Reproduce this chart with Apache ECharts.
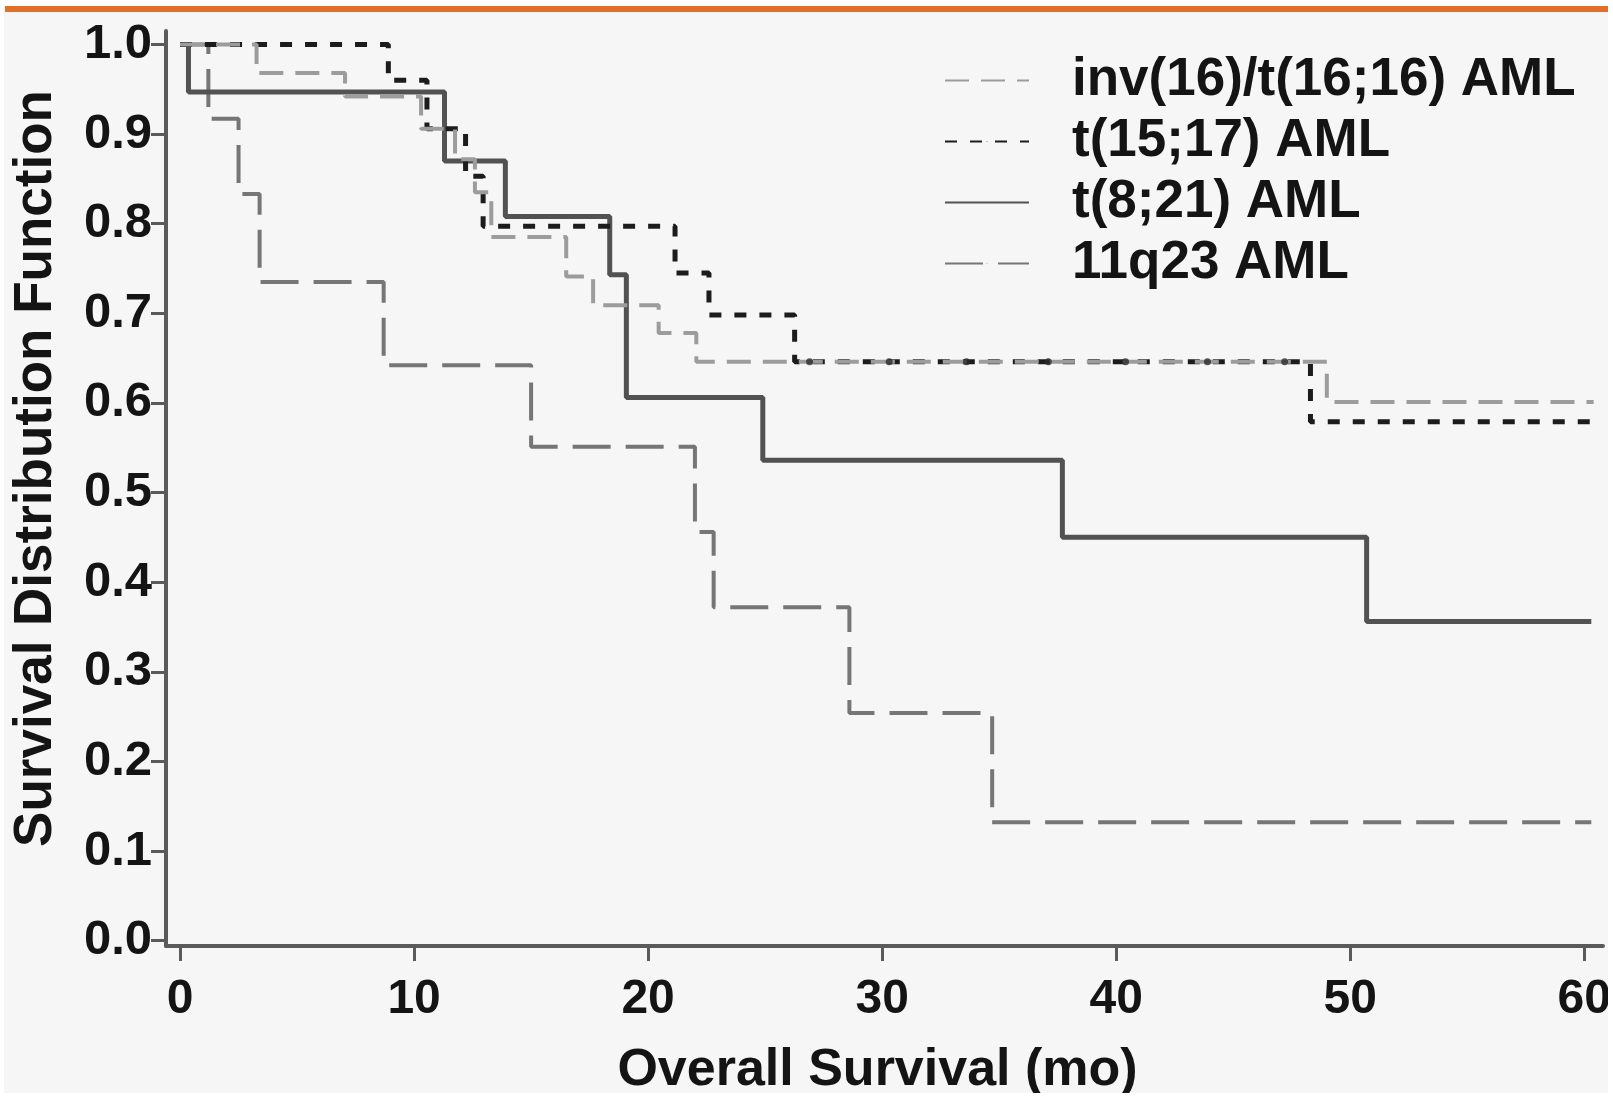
<!DOCTYPE html>
<html>
<head>
<meta charset="utf-8">
<script src="https://cdn.jsdelivr.net/npm/echarts@6/dist/echarts.min.js"></script>
<style>
  html, body { margin: 0; padding: 0; background: #ffffff; }
  #chart { width: 1613px; height: 1096px; }
</style>
</head>
<body>
<div id="chart"></div>
<script>
// ---- data (time in months, survival probability) ----
const seriesNames = ['inv(16)/t(16;16) AML', 't(15;17) AML', 't(8;21) AML', '11q23 AML'];

const inv16Time = [0, 3.27, 7.05, 10.3, 11.75, 12.6, 13.3, 16.5, 17.65, 20.45, 22.06, 49.0, 60.4];
const inv16Surv = [1.0, 0.968, 0.942, 0.906, 0.872, 0.835, 0.785, 0.741, 0.709, 0.678, 0.646, 0.601, 0.601];

const t1517Time = [0, 8.9, 10.55, 12.2, 12.95, 21.15, 22.6, 26.26, 48.3, 60.5];
const t1517Surv = [1.0, 0.960, 0.906, 0.853, 0.797, 0.745, 0.698, 0.646, 0.579, 0.579];

const t821Time = [0, 0.36, 11.3, 13.9, 18.36, 19.07, 24.9, 37.7, 50.7, 60.3];
const t821Surv = [1.0, 0.947, 0.870, 0.808, 0.743, 0.606, 0.536, 0.450, 0.356, 0.356];

const q23Time = [0, 1.21, 2.5, 3.4, 8.7, 15.0, 22.0, 22.8, 28.6, 34.7, 60.3];
const q23Surv = [1.0, 0.917, 0.833, 0.735, 0.642, 0.551, 0.456, 0.372, 0.254, 0.132, 0.132];

const censorTime = [26.9, 30.3, 33.6, 37.1, 40.4, 43.9, 47.2];
const censorSurv = [0.646, 0.646, 0.646, 0.646, 0.646, 0.646, 0.646];

const xTicks = [0, 10, 20, 30, 40, 50, 60];
const yTicks = [0.0, 0.1, 0.2, 0.3, 0.4, 0.5, 0.6, 0.7, 0.8, 0.9, 1.0];

const xTitle = 'Overall Survival (mo)';
const yTitle = 'Survival Distribution Function';

// ---- helpers ----
const zip = (a, b) => a.map((v, i) => [v, b[i]]);
const FONT = '"Liberation Sans", Arial, Helvetica, sans-serif';

const chart = echarts.init(document.getElementById('chart'), null, { renderer: 'canvas' });

const option = {
  backgroundColor: '#f6f6f6',
  animation: false,
  grid: { left: 166, right: 10, top: 31, bottom: 150, containLabel: false, outerBoundsMode: 'none' },
  xAxis: {
    type: 'value',
    min: -0.6,
    max: 60.8,
    name: xTitle,
    nameLocation: 'middle',
    nameGap: 99,
    nameTextStyle: { fontFamily: FONT, fontWeight: 'bold', fontSize: 52, color: '#141414', padding: [0, 14, 0, 0] },
    axisLine: { show: true, onZero: false, lineStyle: { color: '#5a5a5a', width: 4 } },
    axisTick: { show: true, customValues: xTicks, length: 15, lineStyle: { color: '#5a5a5a', width: 3 } },
    axisLabel: {
      customValues: xTicks,
      margin: 30,
      fontFamily: FONT, fontWeight: 'bold', fontSize: 48, color: '#141414'
    },
    splitLine: { show: false }
  },
  yAxis: {
    type: 'value',
    min: -0.006,
    max: 1.015,
    name: yTitle,
    nameLocation: 'middle',
    nameGap: 103,
    nameRotate: 90,
    nameTextStyle: { fontFamily: FONT, fontWeight: 'bold', fontSize: 53, color: '#141414', padding: [0, 0, 0, 40] },
    axisLine: { show: true, onZero: false, lineStyle: { color: '#5a5a5a', width: 4 } },
    axisTick: { show: true, customValues: yTicks, length: 15, lineStyle: { color: '#5a5a5a', width: 3 } },
    axisLabel: {
      customValues: yTicks,
      margin: 14,
      formatter: v => Number(v).toFixed(1),
      fontFamily: FONT, fontWeight: 'bold', fontSize: 49, color: '#141414'
    },
    splitLine: { show: false }
  },
  legend: {
    data: seriesNames,
    orient: 'vertical',
    left: 944,
    top: 54,
    padding: 0,
    itemGap: 8,
    itemWidth: 84,
    itemHeight: 1,
    textStyle: { fontFamily: FONT, fontWeight: 'bold', fontSize: 53, color: '#141414', lineHeight: 52, padding: [0, 0, 0, 38] }
  },
  series: [
    {
      name: seriesNames[3], type: 'line', step: 'end', symbol: 'none',
      data: zip(q23Time, q23Surv),
      lineStyle: { color: '#767676', width: 4, type: [38, 15] },
      itemStyle: { color: '#767676' }, z: 2
    },
    {
      name: seriesNames[2], type: 'line', step: 'end', symbol: 'none',
      data: zip(t821Time, t821Surv),
      lineStyle: { color: '#525252', width: 5, type: 'solid' },
      itemStyle: { color: '#525252' }, z: 3
    },
    {
      name: seriesNames[1], type: 'line', step: 'end', symbol: 'none',
      data: zip(t1517Time, t1517Surv),
      lineStyle: { color: '#1c1c1c', width: 5, type: [12, 13] },
      itemStyle: { color: '#1c1c1c' }, z: 4
    },
    {
      name: seriesNames[0], type: 'line', step: 'end', symbol: 'none',
      data: zip(inv16Time, inv16Surv),
      lineStyle: { color: '#9c9c9c', width: 4, type: [24, 12] },
      itemStyle: { color: '#9c9c9c' }, z: 5
    },
    {
      name: 'censored', type: 'scatter', symbol: 'circle', symbolSize: 7,
      data: zip(censorTime, censorSurv),
      itemStyle: { color: '#2a2a2a' }, z: 6, silent: true
    }
  ],
  graphic: [
    { type: 'rect', shape: { x: 0, y: 0, width: 1613, height: 6 }, style: { fill: '#ffffff' }, z: 100 },
    { type: 'rect', shape: { x: 5, y: 6, width: 1603, height: 6 }, style: { fill: '#e2702a' }, z: 100 },
    { type: 'rect', shape: { x: 0, y: 0, width: 4, height: 1096 }, style: { fill: '#ffffff' }, z: 100 },
    { type: 'rect', shape: { x: 1608, y: 0, width: 5, height: 1096 }, style: { fill: '#ffffff' }, z: 100 },
    { type: 'rect', shape: { x: 0, y: 1093, width: 1613, height: 3 }, style: { fill: '#ffffff' }, z: 100 }
  ]
};

chart.setOption(option);
</script>
</body>
</html>
